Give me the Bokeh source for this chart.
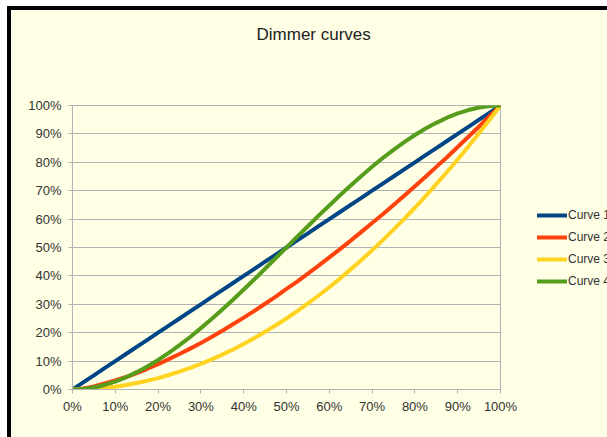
from bokeh.plotting import figure
from bokeh.models import Legend, LegendItem, Title, NumeralTickFormatter, FixedTicker, Range1d
from bokeh.embed import file_html
from bokeh.resources import INLINE

# data (fractions of full scale), read at 2.5% steps of the dimmer level
level = [0.000, 0.025, 0.050, 0.075, 0.100, 0.125, 0.150, 0.175, 0.200, 0.225,
         0.250, 0.275, 0.300, 0.325, 0.350, 0.375, 0.400, 0.425, 0.450, 0.475,
         0.500, 0.525, 0.550, 0.575, 0.600, 0.625, 0.650, 0.675, 0.700, 0.725,
         0.750, 0.775, 0.800, 0.825, 0.850, 0.875, 0.900, 0.925, 0.950, 0.975, 1.000]
curve1 = [0.000, 0.025, 0.050, 0.075, 0.100, 0.125, 0.150, 0.175, 0.200, 0.225,
          0.250, 0.275, 0.300, 0.325, 0.350, 0.375, 0.400, 0.425, 0.450, 0.475,
          0.500, 0.525, 0.550, 0.575, 0.600, 0.625, 0.650, 0.675, 0.700, 0.725,
          0.750, 0.775, 0.800, 0.825, 0.850, 0.875, 0.900, 0.925, 0.950, 0.975, 1.000]
curve2 = [0.000, 0.004, 0.011, 0.021, 0.032, 0.044, 0.058, 0.073, 0.089, 0.107,
          0.125, 0.144, 0.164, 0.185, 0.207, 0.230, 0.253, 0.277, 0.302, 0.327,
          0.354, 0.380, 0.408, 0.436, 0.465, 0.494, 0.524, 0.555, 0.586, 0.617,
          0.650, 0.682, 0.716, 0.749, 0.784, 0.818, 0.854, 0.890, 0.926, 0.963, 1.000]
curve3 = [0.000, 0.001, 0.003, 0.006, 0.010, 0.016, 0.023, 0.031, 0.040, 0.051,
          0.063, 0.076, 0.090, 0.106, 0.123, 0.141, 0.160, 0.181, 0.203, 0.226,
          0.250, 0.276, 0.303, 0.331, 0.360, 0.391, 0.423, 0.456, 0.490, 0.526,
          0.563, 0.601, 0.640, 0.681, 0.723, 0.766, 0.810, 0.856, 0.903, 0.951, 1.000]
curve4 = [0.000, 0.002, 0.007, 0.016, 0.028, 0.043, 0.061, 0.081, 0.104, 0.129,
          0.156, 0.185, 0.216, 0.248, 0.282, 0.316, 0.352, 0.388, 0.425, 0.463,
          0.500, 0.538, 0.575, 0.612, 0.648, 0.684, 0.718, 0.752, 0.784, 0.815,
          0.844, 0.871, 0.896, 0.919, 0.939, 0.957, 0.972, 0.984, 0.993, 0.998, 1.000]
series_names = ["Curve 1", "Curve 2", "Curve 3", "Curve 4"]
series_colors = ["#004586", "#FF420E", "#FFD320", "#579D1C"]
tick_values = [0.0, 0.1, 0.2, 0.3, 0.4, 0.5, 0.6, 0.7, 0.8, 0.9, 1.0]
title_text = "Dimmer curves"

BG = "#FFFFE5"
FONT = "Liberation Sans"

p = figure(frame_width=428, frame_height=284,
           min_border_left=61, min_border_right=107,
           min_border_top=0, min_border_bottom=48,
           x_range=Range1d(0, 1), y_range=Range1d(0, 1),
           output_backend="svg", toolbar_location=None,
           background_fill_color=BG, border_fill_color=BG,
           outline_line_color="#b3b3b3", outline_line_width=1,
           styles={"margin-top": "6px", "margin-left": "7px",
                   "border-top": "4px solid #000", "border-left": "4px solid #000"})

items = []
for ys, name, col in zip([curve1, curve2, curve3, curve4], series_names, series_colors):
    r = p.line(level, ys, line_color=col, line_width=4, line_join="round", line_cap="round")
    items.append(LegendItem(label=name, renderers=[r]))

for ax, standoff in ((p.xaxis[0], 5), (p.yaxis[0], 7)):
    ax.ticker = FixedTicker(ticks=tick_values)
    ax.formatter = NumeralTickFormatter(format="0%")
    ax.axis_line_color = "#b3b3b3"
    ax.major_tick_line_color = "#b3b3b3"
    ax.major_tick_in = 0
    ax.major_tick_out = 4
    ax.minor_tick_line_color = None
    ax.major_label_text_font = FONT
    ax.major_label_text_font_size = "13px"
    ax.major_label_text_color = "#333333"
    ax.major_label_standoff = standoff

p.xgrid.grid_line_color = None
p.ygrid.grid_line_color = "#b3b3b3"
p.ygrid.grid_line_width = 1

legend = Legend(items=items, location=(37, 97),
                border_line_color=None, background_fill_alpha=0,
                padding=0, margin=0, spacing=0,
                glyph_width=30, glyph_height=22, label_height=22,
                label_standoff=1,
                label_text_font=FONT, label_text_font_size="12px",
                label_text_color="#333333")
p.add_layout(legend, "right")

# spacer between title and plot area, then the title itself (further out)
spacer = Title(text=" ", text_font_size="17px", standoff=24)
p.add_layout(spacer, "above")
title = Title(text=title_text, align="left", offset=184, vertical_align="top",
              standoff=29, text_font=FONT, text_font_size="17px",
              text_font_style="normal", text_color="#222222")
p.add_layout(title, "above")

open("out.html", "w").write(file_html(p, INLINE))
